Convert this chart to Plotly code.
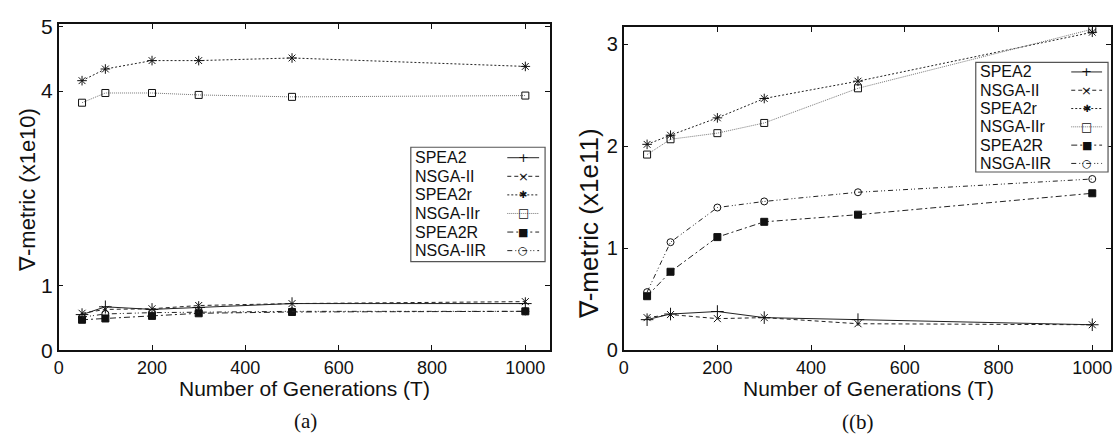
import plotly.graph_objects as go

generations = [50, 100, 200, 300, 500, 1000]
series_names = ["SPEA2", "NSGA-II", "SPEA2r", "NSGA-IIr", "SPEA2R", "NSGA-IIR"]

# (a) values in units of 1e10
a_spea2 = [0.55, 0.67, 0.63, 0.66, 0.72, 0.72]
a_nsga2 = [0.57, 0.63, 0.64, 0.69, 0.72, 0.75]
a_spea2r = [4.16, 4.34, 4.47, 4.47, 4.51, 4.38]
a_nsga2r_small = [3.82, 3.97, 3.97, 3.94, 3.91, 3.93]
a_spea2R = [0.47, 0.49, 0.53, 0.57, 0.59, 0.60]
a_nsga2R = [0.51, 0.56, 0.58, 0.59, 0.60, 0.60]

# (b) values in units of 1e11
b_spea2 = [0.30, 0.355, 0.38, 0.32, 0.30, 0.25]
b_nsga2 = [0.32, 0.35, 0.31, 0.32, 0.26, 0.25]
b_spea2r = [2.02, 2.11, 2.28, 2.47, 2.64, 3.12]
b_nsga2r_small = [1.92, 2.07, 2.13, 2.23, 2.57, 3.15]
b_spea2R = [0.53, 0.77, 1.11, 1.26, 1.33, 1.54]
b_nsga2R = [0.57, 1.06, 1.40, 1.46, 1.55, 1.68]

x_ticks = [0, 200, 400, 600, 800, 1000]
a_y_ticks = [0, 1, 4, 5]
b_y_ticks = [0, 1, 2, 3]

styles = [
    dict(dash="solid", color="#222", symbol="cross-thin-open", size=9, glyph="+", gsize=13),
    dict(dash="4px,3px", color="#222", symbol="x-thin-open", size=7, glyph="×", gsize=13),
    dict(dash="2px,2px", color="#222", symbol="asterisk-open", size=8, glyph="✱", gsize=10),
    dict(dash="1px,1px", color="#777", symbol="square-open", size=7, glyph="□", gsize=12),
    dict(dash="6px,3px,2px,3px", color="#222", symbol="square", size=7, glyph="■", gsize=11),
    dict(dash="5px,3px,1px,2px,1px,3px", color="#222", symbol="circle-open", size=7, glyph="○", gsize=11),
]

W, H = 1117, 447
def px(x):
    return x / W
def py(y):
    return 1 - y / H

sans = "Liberation Sans, Arial, Helvetica, sans-serif"
serif = "Liberation Serif, Times New Roman, serif"

fig = go.Figure()
a_data = [a_spea2, a_nsga2, a_spea2r, a_nsga2r_small, a_spea2R, a_nsga2R]
b_data = [b_spea2, b_nsga2, b_spea2r, b_nsga2r_small, b_spea2R, b_nsga2R]
for xa, ya, data in (("x", "y", a_data), ("x2", "y2", b_data)):
    for name, vals, st in zip(series_names, data, styles):
        fig.add_trace(go.Scatter(
            x=generations, y=vals, name=name, mode="lines+markers",
            xaxis=xa, yaxis=ya, showlegend=False,
            line=dict(color=st["color"], width=1, dash=st["dash"]),
            marker=dict(symbol=st["symbol"], size=st["size"], color="#111",
                        line=dict(color="#111", width=1)),
        ))

axis_common = dict(
    showgrid=False, zeroline=False, showline=True, linecolor="#111", linewidth=1.5,
    mirror="ticks", ticks="inside", ticklen=5, tickcolor="#111", tickwidth=1,
)

shapes = []
annotations = []

def note(text, x, y, size, family=sans, angle=0, xanchor="center"):
    annotations.append(dict(text=text, x=px(x), y=py(y), xref="paper", yref="paper",
                            xanchor=xanchor, yanchor="middle", showarrow=False,
                            textangle=angle, font=dict(size=size, family=family, color="#111")))

# gnuplot-style key: text on the left, line sample on the right
def add_key(box, row0, step, text_x, line_x0, line_x1):
    x0, y0, x1, y1 = box
    shapes.append(dict(type="rect", xref="paper", yref="paper",
                       x0=px(x0), x1=px(x1), y0=py(y1), y1=py(y0),
                       line=dict(color="#555", width=1.2), fillcolor="white", layer="above"))
    for i, (name, st) in enumerate(zip(series_names, styles)):
        yy = row0 + i * step
        note(name, text_x, yy, 16, xanchor="left")
        shapes.append(dict(type="line", xref="paper", yref="paper",
                           x0=px(line_x0), x1=px(line_x1), y0=py(yy), y1=py(yy),
                           line=dict(color=st["color"], width=1, dash=st["dash"]), layer="above"))
        note(st["glyph"], (line_x0 + line_x1) / 2, yy, st["gsize"], family="DejaVu Sans")

add_key((408, 144, 543, 264), 155, 19.5, 410, 505, 537)
add_key((976, 55, 1109, 170), 65, 19.2, 978, 1072, 1103)

note("Number of Generations (T)", 301, 397, 21)
note("Number of Generations (T)", 868, 397, 21)
note("∇-metric (x1e10)", 22, 189, 22, angle=-90)
note("∇-metric (x1e11)", 588, 224, 26, angle=-90)
note("(a)", 302, 431, 21, family=serif)
note("((b)", 857, 432, 21, family=serif)

fig.update_layout(
    width=W, height=H,
    margin=dict(l=0, r=0, t=0, b=0),
    paper_bgcolor="white", plot_bgcolor="white",
    font=dict(family=sans, color="#111"),
    showlegend=False,
    xaxis=dict(domain=[px(54), px(548)], range=[0, 1053], anchor="y",
               tickvals=x_ticks, tickfont=dict(size=18), **axis_common),
    yaxis=dict(domain=[py(357), py(15)], range=[0, 5.03], anchor="x",
               tickvals=a_y_ticks, tickfont=dict(size=21), **axis_common),
    xaxis2=dict(domain=[px(622), px(1112)], range=[0, 1040], anchor="y2",
                tickvals=x_ticks, tickfont=dict(size=18), **axis_common),
    yaxis2=dict(domain=[py(357), py(18)], range=[0, 3.17], anchor="x2",
                tickvals=b_y_ticks, tickfont=dict(size=20), **axis_common),
    shapes=shapes,
    annotations=annotations,
)

fig.write_html("out.html")
